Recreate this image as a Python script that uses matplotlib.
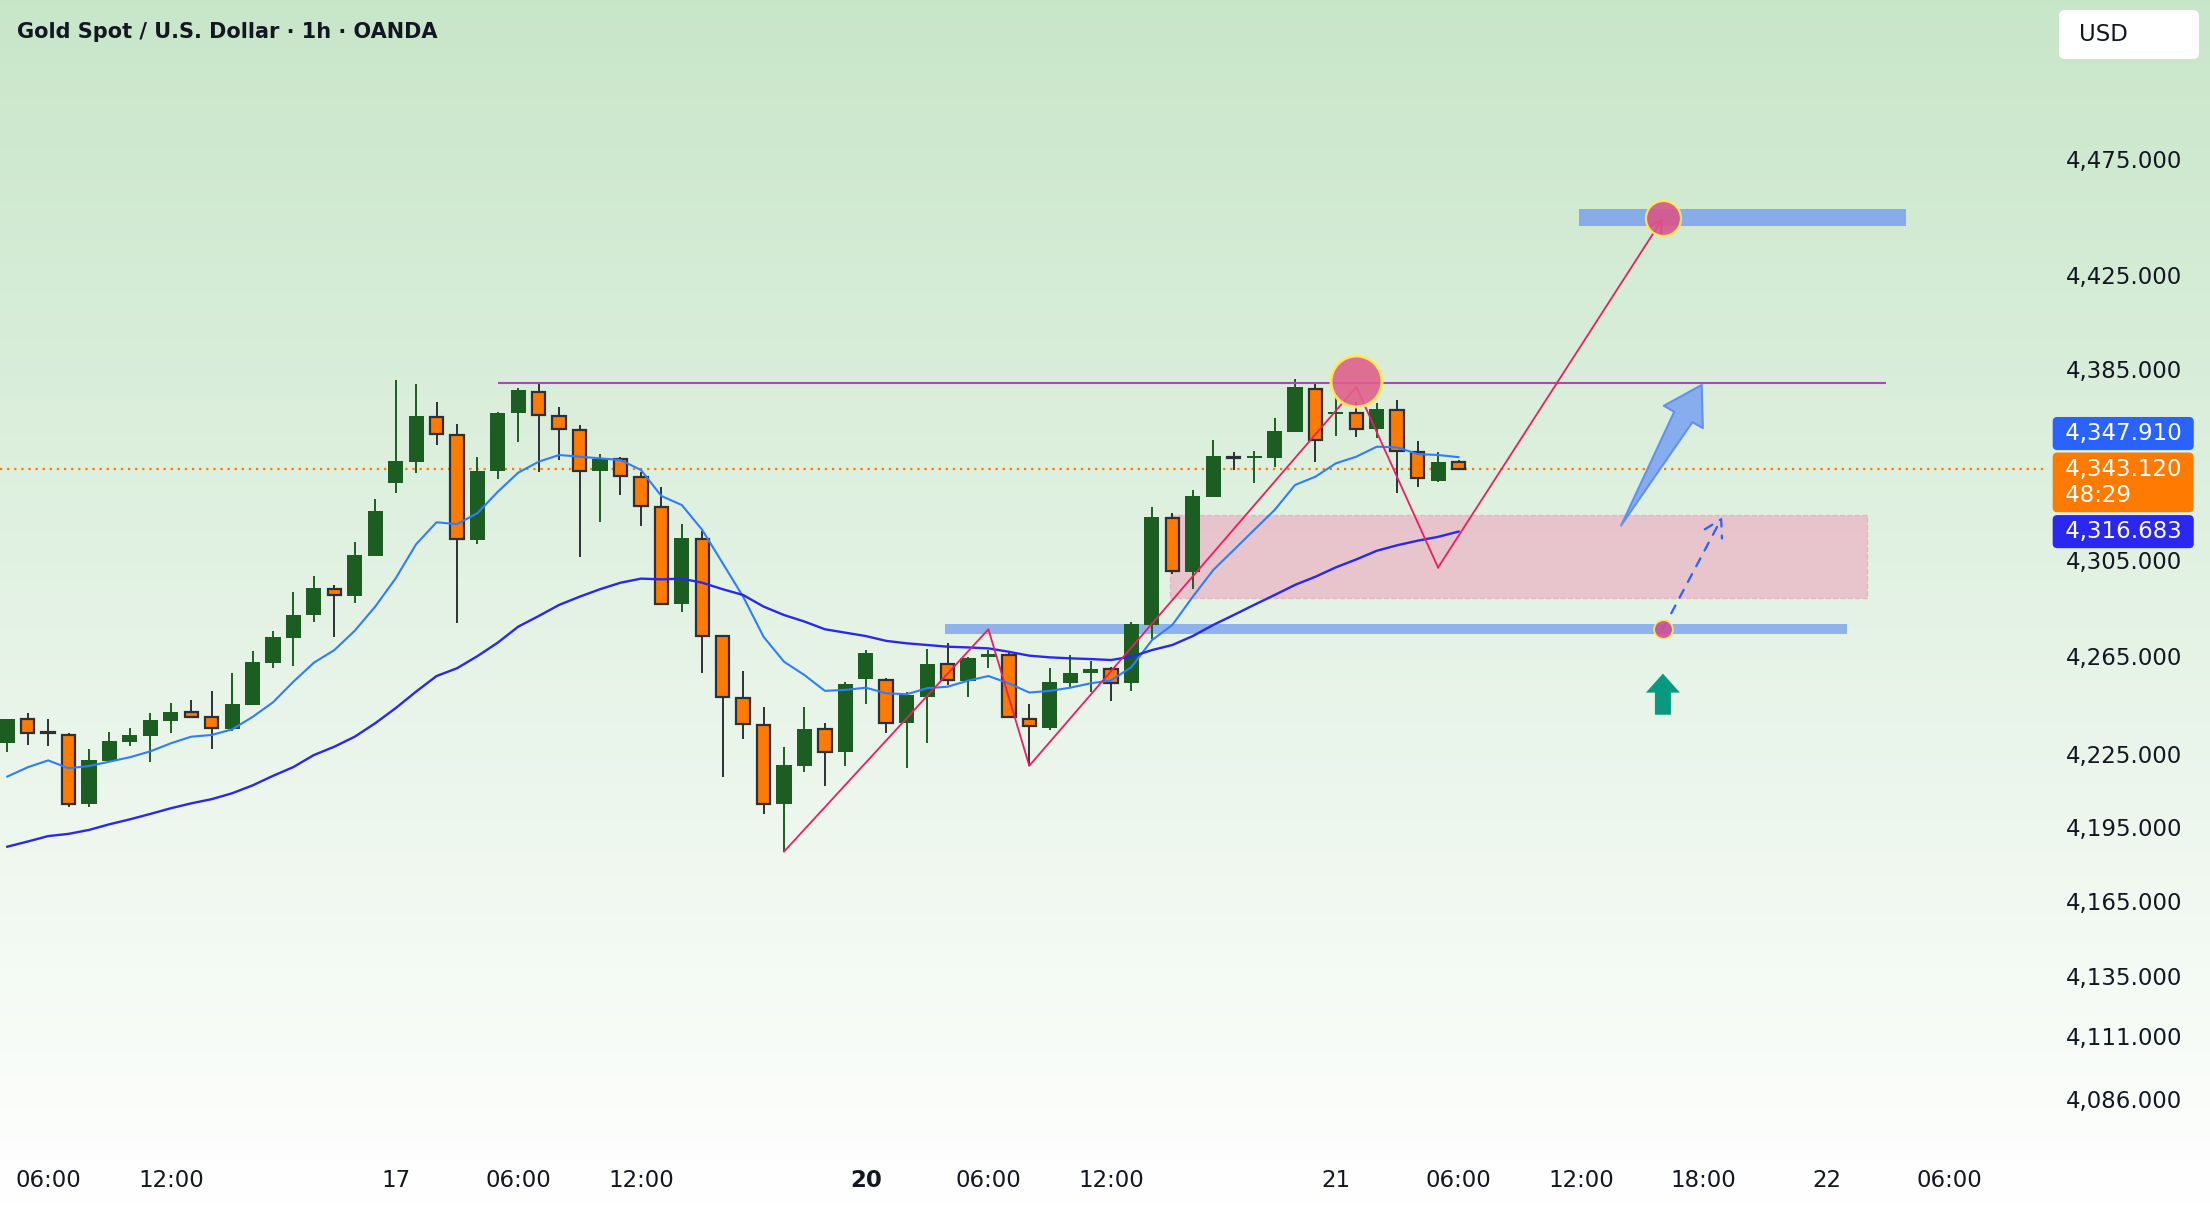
import numpy as np
import matplotlib.pyplot as plt
from matplotlib import transforms
from matplotlib.patches import Rectangle, FancyBboxPatch, Polygon
from matplotlib.ticker import FixedLocator, FuncFormatter, NullLocator

plt.rcParams['font.family'] = ['DejaVu Sans']

# ---- hourly XAUUSD candles (index 0 = 16th 04:00, last = 21st 06:00) ----
opens = [4229.4, 4239.0, 4233.8, 4232.7, 4204.3, 4222.0, 4229.8, 4232.3, 4238.4, 4241.9,
         4239.8, 4235.2, 4245.0, 4262.3, 4272.6, 4282.2, 4292.9, 4290.0, 4306.6, 4337.2,
         4346.0, 4365.0, 4357.4, 4313.3, 4342.1, 4366.4, 4375.5, 4365.4, 4359.4, 4342.1,
         4347.0, 4339.7, 4327.1, 4286.6, 4313.6, 4273.3, 4247.9, 4236.7, 4204.4, 4220.0,
         4234.9, 4225.5, 4255.5, 4255.2, 4237.4, 4248.3, 4261.6, 4254.9, 4264.8, 4265.5,
         4239.2, 4235.3, 4254.1, 4257.9, 4259.7, 4253.8, 4277.9, 4322.5, 4300.0, 4331.3,
         4347.8, 4347.6, 4347.4, 4358.7, 4376.7, 4366.2, 4366.7, 4359.7, 4367.8, 4350.2,
         4338.0, 4346.0]
highs = [4239.3, 4241.8, 4239.0, 4233.4, 4226.8, 4233.8, 4235.4, 4241.6, 4245.7, 4247.0,
         4250.7, 4257.9, 4267.1, 4275.4, 4291.6, 4298.2, 4294.3, 4312.4, 4330.4, 4380.5,
         4378.8, 4371.3, 4361.9, 4347.9, 4366.8, 4377.0, 4378.8, 4369.2, 4361.5, 4349.2,
         4347.9, 4341.8, 4335.3, 4319.9, 4317.1, 4273.7, 4258.9, 4244.2, 4227.8, 4244.2,
         4237.3, 4254.5, 4267.5, 4255.9, 4250.1, 4267.9, 4270.6, 4264.5, 4267.5, 4266.2,
         4245.2, 4260.0, 4265.5, 4263.0, 4260.6, 4279.0, 4327.1, 4324.3, 4334.1, 4355.2,
         4350.0, 4350.5, 4364.3, 4380.8, 4379.1, 4374.9, 4371.1, 4370.6, 4372.0, 4354.7,
         4350.2, 4346.7]
lows = [4225.7, 4228.5, 4228.0, 4203.1, 4203.1, 4222.0, 4228.2, 4221.7, 4233.6, 4239.5,
        4227.0, 4234.4, 4245.0, 4260.2, 4260.9, 4279.3, 4273.0, 4287.1, 4306.6, 4332.7,
        4341.1, 4353.0, 4278.5, 4311.7, 4338.6, 4354.4, 4341.8, 4346.7, 4306.0, 4320.9,
        4332.0, 4319.2, 4286.6, 4283.4, 4257.9, 4215.3, 4230.8, 4200.4, 4185.1, 4217.6,
        4211.9, 4220.0, 4245.2, 4233.3, 4219.0, 4229.2, 4253.1, 4248.3, 4260.0, 4239.5,
        4219.9, 4234.8, 4252.2, 4250.1, 4246.4, 4250.7, 4272.1, 4299.0, 4292.7, 4331.3,
        4342.5, 4336.9, 4343.9, 4358.7, 4346.0, 4356.8, 4356.5, 4355.9, 4332.7, 4335.3,
        4337.6, 4342.8]
closes = [4239.0, 4233.3, 4233.5, 4204.4, 4222.4, 4230.1, 4232.6, 4238.7, 4242.0, 4240.0,
          4235.4, 4245.3, 4262.6, 4272.9, 4282.0, 4293.2, 4290.2, 4306.9, 4325.3, 4346.3,
          4365.3, 4357.7, 4313.6, 4342.1, 4366.6, 4376.3, 4365.7, 4359.8, 4342.1, 4347.2,
          4340.0, 4327.4, 4286.6, 4313.9, 4273.3, 4248.1, 4237.0, 4204.4, 4220.2, 4234.9,
          4225.6, 4253.5, 4266.2, 4237.6, 4249.0, 4261.6, 4255.2, 4264.1, 4265.5, 4239.8,
          4236.1, 4254.2, 4257.9, 4259.8, 4254.1, 4278.2, 4322.7, 4300.3, 4331.6, 4348.4,
          4347.6, 4347.8, 4359.0, 4377.4, 4355.2, 4366.6, 4359.8, 4368.1, 4350.5, 4339.0,
          4346.0, 4343.12]

# moving averages
ema_fast = [4215.6, 4219.4, 4222.2, 4219.0, 4219.9, 4221.7, 4223.5, 4225.9, 4229.2, 4231.9,
            4232.6, 4234.9, 4240.0, 4246.0, 4254.5, 4262.3, 4267.5, 4275.5, 4285.5, 4297.2,
            4311.4, 4320.6, 4319.8, 4324.4, 4333.4, 4341.4, 4346.0, 4348.8, 4348.1, 4347.4,
            4346.7, 4342.5, 4331.6, 4327.8, 4317.4, 4303.5, 4289.6, 4273.0, 4262.7, 4257.2,
            4250.7, 4251.1, 4252.0, 4249.7, 4249.3, 4251.8, 4252.4, 4254.9, 4256.8, 4253.8,
            4250.0, 4250.7, 4252.0, 4253.8, 4255.0, 4260.5, 4271.6, 4277.9, 4289.6, 4300.7,
            4309.0, 4317.4, 4325.7, 4336.2, 4339.7, 4345.3, 4348.1, 4352.3, 4352.0, 4349.2,
            4348.8, 4347.9]
ema_slow = [4187.1, 4189.2, 4191.4, 4192.3, 4193.9, 4196.2, 4198.2, 4200.4, 4202.7, 4204.7,
            4206.4, 4208.8, 4212.0, 4215.9, 4219.5, 4224.4, 4227.8, 4231.9, 4237.4, 4243.6,
            4250.4, 4256.8, 4260.0, 4265.0, 4270.6, 4277.2, 4281.6, 4286.2, 4289.6, 4292.7,
            4295.4, 4297.1, 4296.8, 4297.1, 4295.4, 4292.7, 4290.3, 4285.5, 4282.0, 4279.3,
            4276.1, 4274.7, 4273.3, 4271.3, 4270.3, 4269.6, 4268.9, 4268.6, 4268.2, 4266.8,
            4265.2, 4264.5, 4264.1, 4263.8, 4263.4, 4264.8, 4267.5, 4269.6, 4273.3, 4277.9,
            4282.0, 4286.2, 4290.3, 4294.5, 4297.9, 4301.8, 4305.1, 4308.7, 4311.0, 4312.9,
            4314.5, 4316.7]

x_ticks = [2, 8, 19, 25, 31, 42, 48, 54, 65, 71, 77, 83, 89, 95]
x_labels = ['06:00', '12:00', '17', '06:00', '12:00', '20', '06:00', '12:00',
            '21', '06:00', '12:00', '18:00', '22', '06:00']
y_ticks = [4475, 4425, 4385, 4305, 4265, 4225, 4195, 4165, 4135, 4111, 4086]

title = 'Gold Spot / U.S. Dollar \u00b7 1h \u00b7 OANDA'
last_price = 4343.12
fast_last = 4347.910
slow_last = 4316.683
countdown = '48:29'

# drawings
resistance = 4379.0
resistance_span = (24.0, 91.9)
support_zone = (4274.1, 4278.3)
support_span = (45.9, 90.0)
target_zone = (4446.4, 4453.7)
target_span = (76.9, 92.9)
demand_zone = (4289.0, 4323.7)
demand_span = (56.9, 91.0)
zigzag_x = [38, 48, 50, 66, 70, 81]
zigzag_y = [4185.1, 4276.1, 4220.0, 4377.5, 4301.7, 4449.5]
top_marker = (66, 4380.0)
target_marker = (81, 4449.5)
retest_marker = (81, 4276.2)
big_arrow = ((78.95, 4319.2), (82.9, 4378.4))
dash_arrow = ((81, 4276.2), (83.9, 4322.7))
up_arrow = ((81, 4240.9), (81, 4257.8))

GREEN = '#1c5e22'
ORANGE = '#ff7a00'
DARK = '#2e3038'
TXT = '#131722'


def block_arrow(ax, p0, p1, tail_w, shaft_w, head_w, head_len, **kw):
    # arrow polygon built in pixels, then mapped back to data
    a = ax.transData.transform(p0)
    b = ax.transData.transform(p1)
    d = b - a
    u = d / np.hypot(*d)
    n = np.array([-u[1], u[0]])
    base = b - u * head_len
    pts = [a + n * tail_w / 2, base + n * shaft_w / 2, base + n * head_w / 2, b,
           base - n * head_w / 2, base - n * shaft_w / 2, a - n * tail_w / 2]
    pts = ax.transData.inverted().transform(np.array(pts))
    ax.add_patch(Polygon(pts, closed=True, **kw))


fig = plt.figure(figsize=(22.1, 12.08), dpi=100)

# background gradient
bg = fig.add_axes([0, 0, 1, 1], zorder=0)
g = np.linspace(0, 1, 256)[:, None, None]
top = np.array([0.784, 0.902, 0.788])
img = top + (1 - top) * g
bg.imshow(img, aspect='auto', extent=[0, 1, 0, 1], origin='upper')
bg.axis('off')

ax = fig.add_axes([0, 53 / 1208, 2048 / 2210, 1155 / 1208], zorder=1)
ax.patch.set_alpha(0)
ax.set_yscale('log')
ax.set_ylim(4064.06, 4544.5)
ax.set_xlim(-0.357, 99.84)
for s in ax.spines.values():
    s.set_visible(False)

ax.yaxis.set_major_locator(FixedLocator(y_ticks))
ax.yaxis.set_minor_locator(NullLocator())
ax.yaxis.set_major_formatter(FuncFormatter(lambda v, p: f'{v:,.3f}'))
ax.yaxis.tick_right()
ax.tick_params(axis='y', length=0, pad=13, labelsize=16.5, colors=TXT)
ax.set_xticks(x_ticks)
ax.set_xticklabels(x_labels)
ax.tick_params(axis='x', length=0, pad=10, labelsize=16.5, colors=TXT)
ax.get_xticklabels()[5].set_fontweight('bold')

# zones
ax.add_patch(Rectangle((demand_span[0], demand_zone[0]), demand_span[1] - demand_span[0],
                       demand_zone[1] - demand_zone[0], fc='#e9bfca', ec='#e2b4c0',
                       lw=1.0, ls='--', alpha=0.9, zorder=1))
ax.add_patch(Rectangle((support_span[0], support_zone[0]), support_span[1] - support_span[0],
                       support_zone[1] - support_zone[0], fc='#7ba2ec', ec='none',
                       alpha=0.8, zorder=1))
ax.add_patch(Rectangle((target_span[0], target_zone[0]), target_span[1] - target_span[0],
                       target_zone[1] - target_zone[0], fc='#7ba2ec', ec='none',
                       alpha=0.85, zorder=1))

# last price line
ax.axhline(last_price, color=ORANGE, lw=1.6, ls=(0, (1, 2.2)), zorder=2)

# candles
idx = np.arange(len(opens))
o = np.array(opens)
h = np.array(highs)
l = np.array(lows)
c = np.array(closes)
up = c > o
dn = ~up
ax.vlines(idx[up], l[up], h[up], color=GREEN, lw=1.4, zorder=3)
ax.vlines(idx[dn], l[dn], h[dn], color=DARK, lw=1.4, zorder=3)
ax.bar(idx[up], np.maximum(c - o, 0.9)[up], bottom=o[up], width=0.74, color=GREEN, zorder=4)
ax.bar(idx[dn], np.maximum(o - c, 0.3)[dn], bottom=c[dn], width=0.66, color=ORANGE,
       edgecolor=DARK, linewidth=1.6, zorder=4)

# moving averages
ax.plot(idx, ema_fast, color='#2f7dff', lw=1.5, zorder=5)
ax.plot(idx, ema_slow, color='#2a27f0', lw=1.7, zorder=5)

# resistance line
ax.hlines(resistance, *resistance_span, color='#ab47bc', lw=1.5, zorder=5)

# zigzag path
ax.plot(zigzag_x[:-1], zigzag_y[:-1], color='#e91e63', lw=1.3, zorder=6)
ax.annotate('', xy=(zigzag_x[-1], zigzag_y[-1]), xytext=(zigzag_x[-2], zigzag_y[-2]),
            arrowprops=dict(arrowstyle='->,head_length=0.45,head_width=0.25', color='#e91e63',
                            lw=1.3, shrinkA=0, shrinkB=0, mutation_scale=20), zorder=6)

# markers
ax.scatter(*top_marker, s=1350, c='#e0608c', edgecolors='#ffee58', linewidths=2.2,
           alpha=0.9, zorder=7)
ax.scatter(*target_marker, s=635, c='#d9558a', edgecolors='#ffee58', linewidths=1.6,
           alpha=0.9, zorder=7)
ax.scatter(*retest_marker, s=182, c='#cc5296', edgecolors='#ffee58', linewidths=1.3,
           alpha=0.9, zorder=7)

# arrows
block_arrow(ax, big_arrow[0], big_arrow[1], 0, 21, 45, 37, fc='#7ea6f2', ec='#5a8cf0',
            lw=1.5, alpha=0.9, zorder=6, joinstyle='round')
ax.annotate('', xy=dash_arrow[1], xytext=dash_arrow[0],
            arrowprops=dict(arrowstyle='->,head_length=0.6,head_width=0.35', color='#2962ff',
                            lw=1.6, linestyle=(0, (4, 4)), shrinkA=0, shrinkB=0,
                            mutation_scale=20), zorder=6)
block_arrow(ax, up_arrow[0], up_arrow[1], 16, 16, 34, 19, fc='#089981', ec='none', zorder=6)

# price tags on the scale
trans = transforms.blended_transform_factory(ax.transAxes, ax.transData)


def price_tag(price, text, color, dy=0):
    ax.annotate(text, xy=(1.0, price), xycoords=trans, xytext=(7, dy),
                textcoords='offset points', ha='left', va='center', fontsize=16.5,
                color='white', annotation_clip=False, zorder=10,
                bbox=dict(boxstyle='round,pad=0.22,rounding_size=0.2', fc=color, ec='none'))


price_tag(fast_last, f' {fast_last:,.3f} ', '#2962ff', dy=17)
price_tag(last_price, f' {last_price:,.3f} \n {countdown}', ORANGE, dy=-10)
price_tag(slow_last, f' {slow_last:,.3f} ', '#2a27f0', dy=0)

# currency box + title
fig.patches.append(FancyBboxPatch((20.59, 11.49), 1.40, 0.49,
                                  boxstyle='round,pad=0,rounding_size=0.06',
                                  transform=fig.dpi_scale_trans, fc='white', ec='none',
                                  figure=fig))
fig.text(20.79, 11.735, 'USD', transform=fig.dpi_scale_trans, fontsize=16.5, color=TXT,
         va='center', ha='left')
fig.text(17 / 2210, 1 - 32 / 1208, title, fontsize=15, fontweight='bold', color=TXT,
         va='center', ha='left')

fig.savefig('out.png', dpi=100)
